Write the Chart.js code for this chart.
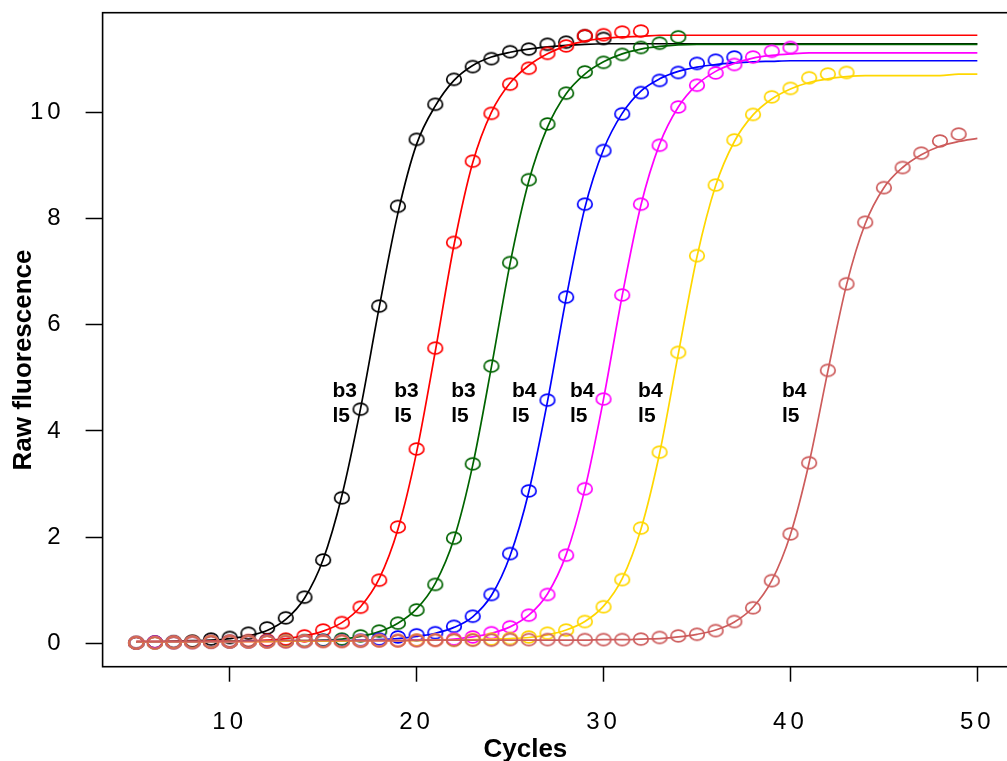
<!DOCTYPE html>
<html><head><meta charset="utf-8">
<script src="https://cdn.jsdelivr.net/npm/chart.js@4/dist/chart.umd.min.js"></script>
<style>
html,body{margin:0;padding:0;background:#fff;overflow:hidden;width:1007px;height:761px;}
#wrap{position:absolute;left:0;top:0;width:1020px;height:761px;}
</style></head><body>
<div id="wrap"><canvas id="c"></canvas></div>
<script>
const cycles = [5,6,7,8,9,10,11,12,13,14,15,16,17,18,19,20,21,22,23,24,25,26,27,28,29,30,31,32,33,34,35,36,37,38,39,40,41,42,43,44,45,46,47,48,49,50];
const xTicks = [10,20,30,40,50];
const yTicks = [0,2,4,6,8,10];
const xTitle = "Cycles";
const yTitle = "Raw fluorescence";

const blackPts = [0.01,0.02,0.03,0.04,0.08,0.11,0.19,0.29,0.48,0.87,1.57,2.74,4.41,6.35,8.23,9.49,10.15,10.62,10.86,11.01,11.14,11.19,11.28,11.32,11.44,11.39];
const blackFit = [0.03,0.03,0.04,0.05,0.06,0.09,0.14,0.24,0.45,0.85,1.58,2.78,4.42,6.33,8.1,9.4,10.12,10.6,10.88,11.04,11.13,11.19,11.23,11.26,11.28,11.29,11.29,11.29,11.29,11.29,11.29,11.29,11.29,11.29,11.29,11.29,11.29,11.29,11.29,11.29,11.29,11.29,11.29,11.29,11.29,11.29];
const redPts = [0.01,0.02,0.02,0.03,0.03,0.04,0.05,0.06,0.08,0.14,0.25,0.39,0.68,1.19,2.19,3.66,5.56,7.55,9.08,9.98,10.53,10.83,11.11,11.25,11.44,11.46,11.51,11.53];
const redFit = [0.03,0.03,0.03,0.03,0.04,0.04,0.05,0.06,0.09,0.14,0.23,0.39,0.69,1.22,2.15,3.6,5.5,7.5,9.05,10.0,10.55,10.88,11.1,11.25,11.34,11.39,11.42,11.43,11.45,11.45,11.45,11.45,11.45,11.45,11.45,11.45,11.45,11.45,11.45,11.45,11.45,11.45,11.45,11.45,11.45,11.45];
const greenPts = [0.01,0.02,0.02,0.03,0.03,0.03,0.04,0.04,0.05,0.05,0.06,0.08,0.14,0.23,0.38,0.63,1.11,1.98,3.38,5.22,7.17,8.73,9.78,10.36,10.76,10.94,11.09,11.22,11.30,11.42];
const greenFit = [0.03,0.03,0.03,0.03,0.03,0.04,0.04,0.04,0.05,0.05,0.06,0.08,0.13,0.22,0.38,0.65,1.13,1.97,3.35,5.2,7.15,8.7,9.72,10.35,10.72,10.95,11.1,11.19,11.24,11.27,11.28,11.28,11.28,11.28,11.28,11.28,11.28,11.28,11.28,11.28,11.28,11.28,11.28,11.28,11.28,11.28];
const bluePts = [0.01,0.02,0.02,0.02,0.03,0.03,0.03,0.04,0.04,0.04,0.05,0.05,0.06,0.08,0.12,0.16,0.2,0.32,0.51,0.92,1.69,2.87,4.58,6.52,8.27,9.28,9.97,10.37,10.6,10.75,10.92,10.98,11.04];
const blueFit = [0.03,0.03,0.03,0.03,0.03,0.03,0.04,0.04,0.04,0.04,0.05,0.05,0.06,0.07,0.09,0.13,0.19,0.3,0.5,0.9,1.65,2.85,4.55,6.5,8.2,9.3,9.98,10.4,10.63,10.77,10.85,10.9,10.93,10.95,10.96,10.97,10.97,10.97,10.97,10.97,10.97,10.97,10.97,10.97,10.97,10.97];
const magentaPts = [0.01,0.02,0.02,0.02,0.03,0.03,0.03,0.03,0.04,0.04,0.04,0.04,0.05,0.05,0.05,0.06,0.06,0.08,0.12,0.2,0.31,0.53,0.92,1.66,2.91,4.6,6.56,8.27,9.38,10.1,10.51,10.74,10.9,11.04,11.15,11.22];
const magentaFit = [0.03,0.03,0.03,0.03,0.03,0.03,0.03,0.03,0.04,0.04,0.04,0.04,0.05,0.05,0.05,0.06,0.06,0.08,0.12,0.19,0.31,0.53,0.93,1.67,2.9,4.6,6.55,8.25,9.4,10.1,10.52,10.77,10.92,11.02,11.07,11.1,11.12,11.12,11.12,11.12,11.12,11.12,11.12,11.12,11.12,11.12];
const yellowPts = [0.01,0.01,0.02,0.02,0.03,0.03,0.03,0.03,0.04,0.04,0.04,0.04,0.05,0.05,0.05,0.06,0.06,0.06,0.07,0.08,0.09,0.12,0.19,0.25,0.41,0.69,1.2,2.17,3.6,5.48,7.3,8.63,9.48,9.96,10.29,10.45,10.65,10.72,10.75];
const yellowFit = [0.03,0.03,0.03,0.03,0.03,0.03,0.03,0.03,0.04,0.04,0.04,0.04,0.05,0.05,0.05,0.05,0.06,0.06,0.07,0.08,0.09,0.11,0.16,0.25,0.41,0.7,1.22,2.15,3.58,5.45,7.28,8.62,9.45,9.95,10.25,10.44,10.56,10.63,10.67,10.69,10.69,10.69,10.69,10.69,10.72,10.72];
const brownPts = [0.01,0.01,0.02,0.02,0.02,0.03,0.03,0.03,0.03,0.04,0.04,0.04,0.04,0.05,0.05,0.05,0.06,0.06,0.06,0.06,0.07,0.07,0.07,0.07,0.07,0.07,0.07,0.08,0.11,0.14,0.17,0.24,0.41,0.67,1.18,2.06,3.4,5.14,6.77,7.93,8.58,8.96,9.23,9.46,9.59];
const brownFit = [0.04,0.04,0.04,0.04,0.04,0.04,0.04,0.05,0.05,0.05,0.05,0.05,0.05,0.05,0.05,0.06,0.06,0.06,0.06,0.06,0.06,0.06,0.06,0.06,0.06,0.07,0.07,0.08,0.09,0.12,0.17,0.25,0.4,0.68,1.18,2.05,3.4,5.12,6.75,7.9,8.58,8.96,9.2,9.36,9.45,9.51];

const seriesColors = ["#000000","#FF0000","#006400","#0000FF","#FF00FF","#FFD700","#CD5C5C"];
const seriesPts = [blackPts, redPts, greenPts, bluePts, magentaPts, yellowPts, brownPts];
const seriesFit = [blackFit, redFit, greenFit, blueFit, magentaFit, yellowFit, brownFit];

const labelX = [15.5, 18.8, 21.85, 25.1, 28.2, 31.85, 39.55];
const labelY = 4.645;
const labelTop = ["b3","b3","b3","b4","b4","b4","b4"];
const labelBottom = ["l5","l5","l5","l5","l5","l5","l5"];

function ellipse(color){
  const c = document.createElement('canvas');
  c.width = 20; c.height = 16;
  const g = c.getContext('2d');
  g.strokeStyle = color; g.lineWidth = 1.7;
  g.beginPath(); g.ellipse(10, 8, 7.3, 5.9, 0, 0, Math.PI*2); g.stroke();
  return c;
}

const datasets = [];
seriesColors.forEach((col, i) => {
  const n = seriesColors.length;
  datasets.push({
    type: 'line',
    data: seriesFit[i].map((v, k) => ({x: cycles[k], y: v})),
    borderColor: col, borderWidth: 1.7, pointRadius: 0,
    cubicInterpolationMode: 'monotone', fill: false,
    order: (n - i) * 2
  });
  datasets.push({
    type: 'scatter',
    data: seriesPts[i].map((v, k) => ({x: cycles[k], y: v})),
    pointStyle: ellipse(col), pointRadius: 8, showLine: false,
    order: (n - i) * 2 - 1
  });
});

const decor = {
  id: 'decor',
  afterDatasetsDraw(chart) {
    const {ctx, chartArea: a, scales: {x, y}} = chart;
    ctx.save();
    ctx.strokeStyle = '#000'; ctx.lineWidth = 1.6;
    ctx.strokeRect(a.left, a.top, a.right - a.left, a.bottom - a.top);
    ctx.fillStyle = '#000';
    ctx.font = 'bold 21px "Liberation Sans", Arial, sans-serif';
    ctx.textAlign = 'left'; ctx.textBaseline = 'alphabetic';
    labelX.forEach((lx, i) => {
      const px = x.getPixelForValue(lx), py = y.getPixelForValue(labelY);
      ctx.fillText(labelTop[i], px, py);
      ctx.fillText(labelBottom[i], px, py + 25);
    });
    ctx.font = 'bold 26px "Liberation Sans", Arial, sans-serif';
    ctx.textAlign = 'center';
    ctx.fillText(xTitle, 525.4, 756.7);
    ctx.translate(31, 360);
    ctx.rotate(-Math.PI / 2);
    ctx.fillText(yTitle, 0, 0);
    ctx.restore();
    ctx.letterSpacing = '4px';
  },
  afterDraw(chart) { chart.ctx.letterSpacing = '0px'; }
};

const tickFont = {family: '"Liberation Sans", Arial, sans-serif', size: 24};

new Chart(document.getElementById('c'), {
  data: {datasets},
  options: {
    responsive: true, maintainAspectRatio: false, animation: false,
    events: [],
    layout: {padding: {top: 12.7, right: 7.3, left: 0, bottom: 0}},
    plugins: {legend: {display: false}, tooltip: {enabled: false}},
    scales: {
      x: {
        type: 'linear', min: 3.2, max: 51.8,
        afterBuildTicks: s => { s.ticks = xTicks.map(v => ({value: v})); },
        afterFit: s => { s.height = 94.3; s.paddingLeft = 0; s.paddingRight = 0; },
        grid: {display: true, drawOnChartArea: false, drawTicks: true, tickLength: 15, tickColor: '#000', tickWidth: 1.5},
        border: {display: false},
        ticks: {font: tickFont, color: '#000', padding: 26, maxRotation: 0, autoSkip: false, z: 1}
      },
      y: {
        type: 'linear', min: -0.44, max: 11.875,
        afterBuildTicks: s => { s.ticks = yTicks.map(v => ({value: v})); },
        afterFit: s => { s.width = 102.6; s.paddingTop = 0; s.paddingBottom = 0; },
        grid: {display: true, drawOnChartArea: false, drawTicks: true, tickLength: 17, tickColor: '#000', tickWidth: 1.5},
        border: {display: false},
        ticks: {font: tickFont, color: '#000', padding: 21, z: 1}
      }
    }
  },
  plugins: [decor]
});
</script>
</body></html>
